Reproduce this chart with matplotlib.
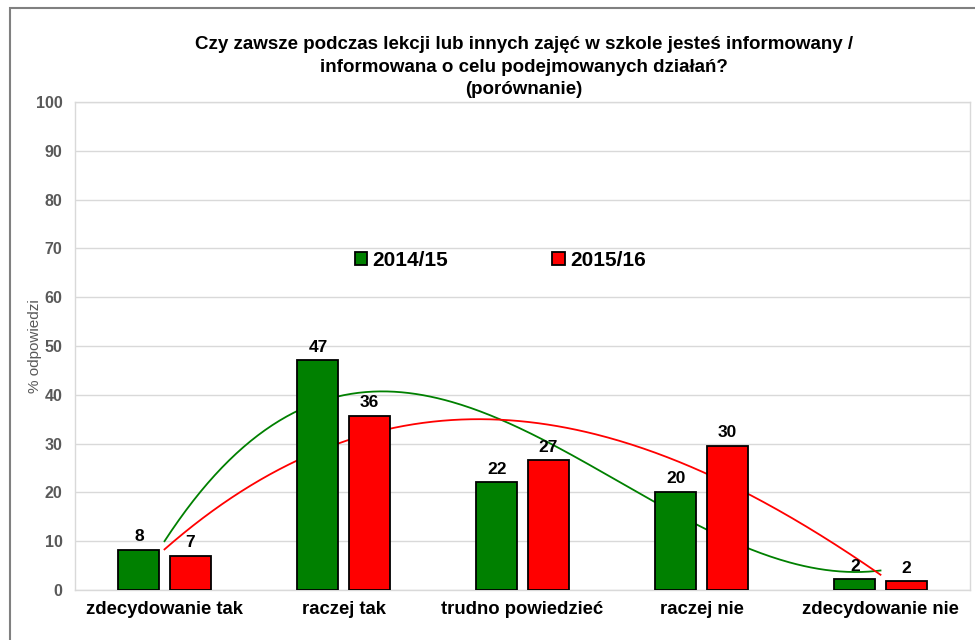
import numpy as np
import matplotlib
matplotlib.use("Agg")
import matplotlib.pyplot as plt
from matplotlib.patches import Rectangle

plt.rcParams['font.family'] = ['Liberation Sans', 'DejaVu Sans']

categories = ["zdecydowanie tak", "raczej tak", "trudno powiedzieć", "raczej nie", "zdecydowanie nie"]
series_names = ["2014/15", "2015/16"]
values_2014 = [8.2, 47.1, 22.1, 20.1, 2.2]
values_2015 = [7.0, 35.7, 26.6, 29.6, 1.8]
colors = ["#008000", "#FF0000"]
yticks = list(range(0, 101, 10))
title = ("Czy zawsze podczas lekcji lub innych zajęć w szkole jesteś informowany /\n"
         "informowana o celu podejmowanych działań?\n(porównanie)")

fig = plt.figure(figsize=(9.75, 6.4), dpi=100)
ax = fig.add_axes([75/975, 50/640, 895/975, 488/640])

x = np.arange(len(categories))
w = 0.23
off = 0.143
b1 = ax.bar(x - off, values_2014, w, color=colors[0], edgecolor="black", linewidth=1.3, zorder=3, label=series_names[0])
b2 = ax.bar(x + off, values_2015, w, color=colors[1], edgecolor="black", linewidth=1.3, zorder=3, label=series_names[1])
for bars in (b1, b2):
    ax.bar_label(bars, fmt="{:.0f}", padding=4, fontsize=12.5, fontweight="bold", color="black")

xs = np.linspace(0, 4, 300)
for vals, c in ((values_2014, colors[0]), (values_2015, colors[1])):
    coef = np.polyfit(x, vals, 3)
    ax.plot(xs, np.polyval(coef, xs), color=c, linewidth=1.3, zorder=2)

ax.set_xlim(-0.5, 4.5)
ax.set_ylim(0, 100)
ax.set_yticks(yticks)
ax.set_xticks(x)
ax.set_xticklabels(categories, fontsize=13.3, fontweight="bold", color="black")
for lab in ax.get_yticklabels():
    lab.set_fontweight("bold")
ax.tick_params(axis="y", length=0, labelsize=11.5, labelcolor="#595959", pad=9)
ax.tick_params(axis="x", length=0, pad=8)
ax.grid(axis="y", color="#d9d9d9", linewidth=1, zorder=0)
ax.set_axisbelow(True)
for s in ax.spines.values():
    s.set_color("#d9d9d9")
    s.set_linewidth(1)
ax.set_ylabel("% odpowiedzi", fontsize=11, color="#595959")
ax.yaxis.set_label_coords((42 - 75) / 895, 0.5)

leg = ax.legend(loc="center", bbox_to_anchor=(0.475, 0.676), ncol=2, frameon=False,
                prop={"size": 15, "weight": "bold"}, handlelength=0.6, handleheight=0.6,
                handletextpad=0.25, columnspacing=5.0)

fig.text(524/975, 1 - 67/640, title, ha="center", va="center", fontsize=13.5,
         fontweight="bold", linespacing=1.42, color="black")

fig.patches.append(Rectangle((10/975, -0.1), 1.1, 1 - 8/640 + 0.1, transform=fig.transFigure,
                             fill=False, edgecolor="#808080", linewidth=1.5))

fig.savefig("out.png", dpi=100, facecolor="white")
